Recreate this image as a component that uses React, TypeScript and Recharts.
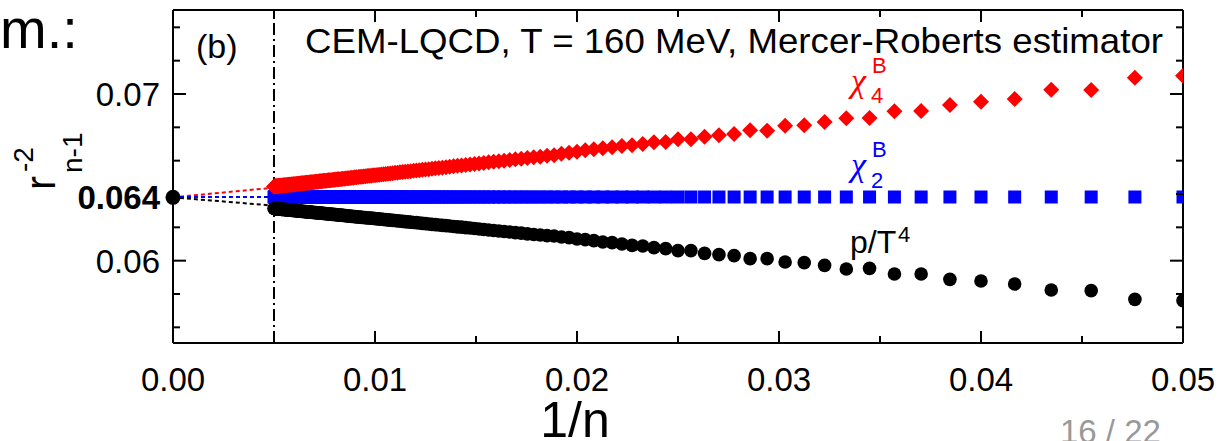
import { ComposedChart, Scatter, Line, XAxis, YAxis, ReferenceLine } from "recharts"

// n of the estimator, plotted at x = 1/n
const nValues = [
  20, 21, 22, 23, 24, 25, 26, 27, 28, 29,
  30, 31, 32, 33, 34, 35, 36, 37, 38, 39,
  40, 41, 42, 43, 44, 45, 46, 47, 48, 49,
  50, 51, 52, 53, 54, 55, 56, 57, 58, 59,
  60, 61, 62, 63, 64, 65, 66, 67, 68, 69,
  70, 71, 72, 73, 74, 75, 76, 77, 78, 79,
  80, 81, 82, 83, 84, 85, 86, 87, 88, 89,
  90, 91, 92, 93, 94, 95, 96, 97, 98, 99,
  100, 101, 102, 103, 104, 105, 106, 107, 108, 109,
  110, 111, 112, 113, 114, 115, 116, 117, 118, 119,
  120, 121, 122, 123, 124, 125, 126, 127, 128, 129,
  130, 131, 132, 133, 134, 135, 136, 137, 138, 139,
  140, 141, 142, 143, 144, 145, 146, 147, 148, 149,
  150, 151, 152, 153, 154, 155, 156, 157, 158, 159,
  160, 161, 162, 163, 164, 165, 166, 167, 168, 169,
  170, 171, 172, 173, 174, 175, 176, 177, 178, 179,
  180, 181, 182, 183, 184, 185, 186, 187, 188, 189,
  190, 191, 192, 193, 194, 195, 196, 197, 198, 199,
  200,
]

const chi4Values = [
  0.0711, 0.07098, 0.07024, 0.07026, 0.0697, 0.06954, 0.06934, 0.06898, 0.06896, 0.06856,
  0.06854, 0.06832, 0.06812, 0.0681, 0.0678, 0.06782, 0.0676, 0.06752, 0.06744, 0.06728,
  0.06728, 0.06712, 0.0671, 0.067, 0.06692, 0.06688, 0.0668, 0.06674, 0.06668, 0.06662,
  0.06654, 0.06648, 0.06642, 0.06632, 0.06629, 0.06624, 0.0662, 0.06616, 0.06611, 0.06608,
  0.06604, 0.066, 0.06596, 0.06593, 0.0659, 0.06586, 0.06583, 0.0658, 0.06577, 0.06574,
  0.06571, 0.06569, 0.06566, 0.06563, 0.06561, 0.06558, 0.06556, 0.06554, 0.06551, 0.06549,
  0.06547, 0.06545, 0.06543, 0.06541, 0.06539, 0.06537, 0.06535, 0.06533, 0.06532, 0.0653,
  0.06528, 0.06527, 0.06525, 0.06523, 0.06522, 0.0652, 0.06519, 0.06517, 0.06516, 0.06514,
  0.06513, 0.06512, 0.0651, 0.06509, 0.06508, 0.06507, 0.06505, 0.06504, 0.06503, 0.06502,
  0.06501, 0.065, 0.06498, 0.06497, 0.06496, 0.06495, 0.06494, 0.06493, 0.06492, 0.06491,
  0.0649, 0.06489, 0.06489, 0.06488, 0.06487, 0.06486, 0.06485, 0.06484, 0.06483, 0.06482,
  0.06482, 0.06481, 0.0648, 0.06479, 0.06479, 0.06478, 0.06477, 0.06476, 0.06476, 0.06475,
  0.06474, 0.06473, 0.06473, 0.06472, 0.06471, 0.06471, 0.0647, 0.0647, 0.06469, 0.06468,
  0.06468, 0.06467, 0.06467, 0.06466, 0.06465, 0.06465, 0.06464, 0.06464, 0.06463, 0.06463,
  0.06462, 0.06461, 0.06461, 0.0646, 0.0646, 0.06459, 0.06459, 0.06458, 0.06458, 0.06457,
  0.06457, 0.06457, 0.06456, 0.06456, 0.06455, 0.06455, 0.06454, 0.06454, 0.06453, 0.06453,
  0.06453, 0.06452, 0.06452, 0.06451, 0.06451, 0.06451, 0.0645, 0.0645, 0.06449, 0.06449,
  0.06449, 0.06448, 0.06448, 0.06448, 0.06447, 0.06447, 0.06446, 0.06446, 0.06446, 0.06445,
  0.06445,
]

const chi2Values = [
  0.06382, 0.06382, 0.06382, 0.06382, 0.06382, 0.06382, 0.06382, 0.06382, 0.06382, 0.06382,
  0.06382, 0.06382, 0.06382, 0.06382, 0.06382, 0.06382, 0.06382, 0.06382, 0.06382, 0.06382,
  0.06382, 0.06382, 0.06382, 0.06382, 0.06382, 0.06382, 0.06382, 0.06382, 0.06382, 0.06382,
  0.06382, 0.06382, 0.06382, 0.06382, 0.06382, 0.06382, 0.06382, 0.06382, 0.06382, 0.06382,
  0.06382, 0.06382, 0.06382, 0.06382, 0.06382, 0.06382, 0.06382, 0.06382, 0.06382, 0.06382,
  0.06382, 0.06382, 0.06382, 0.06382, 0.06382, 0.06382, 0.06382, 0.06382, 0.06382, 0.06382,
  0.06382, 0.06382, 0.06382, 0.06382, 0.06382, 0.06382, 0.06382, 0.06382, 0.06382, 0.06382,
  0.06382, 0.06382, 0.06382, 0.06382, 0.06382, 0.06382, 0.06382, 0.06382, 0.06382, 0.06382,
  0.06382, 0.06382, 0.06382, 0.06382, 0.06382, 0.06382, 0.06382, 0.06382, 0.06382, 0.06382,
  0.06382, 0.06382, 0.06382, 0.06382, 0.06382, 0.06382, 0.06382, 0.06382, 0.06382, 0.06382,
  0.06382, 0.06382, 0.06382, 0.06382, 0.06382, 0.06382, 0.06382, 0.06382, 0.06382, 0.06382,
  0.06382, 0.06382, 0.06382, 0.06382, 0.06382, 0.06382, 0.06382, 0.06382, 0.06382, 0.06382,
  0.06382, 0.06382, 0.06382, 0.06382, 0.06382, 0.06382, 0.06382, 0.06382, 0.06382, 0.06382,
  0.06382, 0.06382, 0.06382, 0.06382, 0.06382, 0.06382, 0.06382, 0.06382, 0.06382, 0.06382,
  0.06382, 0.06382, 0.06382, 0.06382, 0.06382, 0.06382, 0.06382, 0.06382, 0.06382, 0.06382,
  0.06382, 0.06382, 0.06382, 0.06382, 0.06382, 0.06382, 0.06382, 0.06382, 0.06382, 0.06382,
  0.06382, 0.06382, 0.06382, 0.06382, 0.06382, 0.06382, 0.06382, 0.06382, 0.06382, 0.06382,
  0.06382, 0.06382, 0.06382, 0.06382, 0.06382, 0.06382, 0.06382, 0.06382, 0.06382, 0.06382,
  0.06382,
]

const pressureValues = [
  0.0576, 0.05768, 0.0582, 0.05824, 0.0586, 0.05878, 0.05888, 0.0592, 0.0592, 0.05954,
  0.0595, 0.05972, 0.05988, 0.05992, 0.06012, 0.06012, 0.0603, 0.06036, 0.06044, 0.0606,
  0.0606, 0.06072, 0.06078, 0.06088, 0.06092, 0.061, 0.06108, 0.06112, 0.0612, 0.06126,
  0.0613, 0.06138, 0.06142, 0.06148, 0.0615, 0.06154, 0.06157, 0.06161, 0.06165, 0.06168,
  0.06172, 0.06175, 0.06178, 0.06181, 0.06184, 0.06187, 0.0619, 0.06193, 0.06196, 0.06198,
  0.06201, 0.06203, 0.06205, 0.06208, 0.0621, 0.06212, 0.06214, 0.06216, 0.06218, 0.0622,
  0.06222, 0.06224, 0.06226, 0.06228, 0.06229, 0.06231, 0.06233, 0.06234, 0.06236, 0.06238,
  0.06239, 0.06241, 0.06242, 0.06243, 0.06245, 0.06246, 0.06247, 0.06249, 0.0625, 0.06251,
  0.06253, 0.06254, 0.06255, 0.06256, 0.06257, 0.06258, 0.06259, 0.0626, 0.06261, 0.06262,
  0.06263, 0.06264, 0.06265, 0.06266, 0.06267, 0.06268, 0.06269, 0.0627, 0.06271, 0.06272,
  0.06273, 0.06273, 0.06274, 0.06275, 0.06276, 0.06277, 0.06278, 0.06278, 0.06279, 0.0628,
  0.0628, 0.06281, 0.06282, 0.06283, 0.06283, 0.06284, 0.06285, 0.06285, 0.06286, 0.06286,
  0.06287, 0.06288, 0.06288, 0.06289, 0.06289, 0.0629, 0.06291, 0.06291, 0.06292, 0.06292,
  0.06293, 0.06293, 0.06294, 0.06294, 0.06295, 0.06295, 0.06296, 0.06296, 0.06297, 0.06297,
  0.06298, 0.06298, 0.06299, 0.06299, 0.063, 0.063, 0.06301, 0.06301, 0.06302, 0.06302,
  0.06302, 0.06303, 0.06303, 0.06304, 0.06304, 0.06304, 0.06305, 0.06305, 0.06306, 0.06306,
  0.06306, 0.06307, 0.06307, 0.06307, 0.06308, 0.06308, 0.06308, 0.06309, 0.06309, 0.0631,
  0.0631, 0.0631, 0.0631, 0.06311, 0.06311, 0.06311, 0.06312, 0.06312, 0.06312, 0.06313,
  0.06313,
]

// extrapolation to 1/n -> 0
const fitX = [0, 0.005]
const chi4FitY = [0.0638, 0.06438]
const chi2FitY = [0.06382, 0.06382]
const pressureFitY = [0.0638, 0.0633]
const limitX = [0]
const limitY = [0.0638]
const cutX = 0.005

const xTicks = [0, 0.005, 0.01, 0.015, 0.02, 0.025, 0.03, 0.035, 0.04, 0.045, 0.05]
const yTicksLeft = [0.056, 0.058, 0.06, 0.062, 0.0638, 0.066, 0.068, 0.07, 0.072, 0.074]
const yTicksRight = [0.056, 0.058, 0.06, 0.062, 0.064, 0.066, 0.068, 0.07, 0.072, 0.074]

const chi4Data = nValues.map((n, i) => ({ x: 1 / n, y: chi4Values[i] }))
const chi2Data = nValues.map((n, i) => ({ x: 1 / n, y: chi2Values[i] }))
const pressureData = nValues.map((n, i) => ({ x: 1 / n, y: pressureValues[i] }))
const chi4Fit = fitX.map((x, i) => ({ x, y: chi4FitY[i] }))
const chi2Fit = fitX.map((x, i) => ({ x, y: chi2FitY[i] }))
const pressureFit = fitX.map((x, i) => ({ x, y: pressureFitY[i] }))
const limitData = limitX.map((x, i) => ({ x, y: limitY[i] }))

const FONT = "'Liberation Sans', Arial, Helvetica, sans-serif"
const GREEK = "'Liberation Serif', 'Times New Roman', serif"
const XDOMAIN: [number, number] = [0, 0.05]
const YDOMAIN: [number, number] = [0.05506, 0.07504]

const onStep = (v: number, step: number) => Math.abs(v / step - Math.round(v / step)) < 1e-6

function BottomTick({ x, y, payload }: any) {
  const major = onStep(payload.value, 0.01)
  return (
    <g>
      <line x1={x} y1={y} x2={x} y2={y - (major ? 12 : 7)} stroke="#000" strokeWidth={2} />
      {major && (
        <text x={x} y={y + 48} textAnchor="middle" fontSize={33} fontFamily={FONT} fill="#000">
          {payload.value.toFixed(2)}
        </text>
      )}
    </g>
  )
}

function TopTick({ x, y, payload }: any) {
  const major = onStep(payload.value, 0.01)
  return <line x1={x} y1={y} x2={x} y2={y + (major ? 12 : 7)} stroke="#000" strokeWidth={2} />
}

function LeftTick({ x, y, payload }: any) {
  const v = payload.value
  const limit = Math.abs(v - 0.0638) < 1e-6
  const major = onStep(v, 0.01)
  return (
    <g>
      {!limit && <line x1={x} y1={y} x2={x + (major ? 13 : 7)} y2={y} stroke="#000" strokeWidth={2} />}
      {major && (
        <text x={x - 13} y={y + 12} textAnchor="end" fontSize={33} fontFamily={FONT} fill="#000">
          {v.toFixed(2)}
        </text>
      )}
      {limit && (
        <text x={x - 13} y={y + 12} textAnchor="end" fontSize={33} fontWeight="bold" fontFamily={FONT} fill="#000">
          0.064
        </text>
      )}
    </g>
  )
}

function RightTick({ x, y, payload }: any) {
  const major = onStep(payload.value, 0.01)
  return <line x1={x} y1={y} x2={x - (major ? 13 : 7)} y2={y} stroke="#000" strokeWidth={2} />
}

const Diamond = ({ cx, cy }: any) => (
  <polygon points={`${cx},${cy - 8} ${cx + 8},${cy} ${cx},${cy + 8} ${cx - 8},${cy}`} fill="#ff0000" />
)
const Square = ({ cx, cy }: any) => <rect x={cx - 6.5} y={cy - 6.5} width={13} height={13} fill="#0000ff" />
const Dot = ({ cx, cy }: any) => <circle cx={cx} cy={cy} r={6.8} fill="#000" />
const BigDot = ({ cx, cy }: any) => <circle cx={cx} cy={cy} r={7.5} fill="#000" />

const axisLine = { stroke: "#000", strokeWidth: 2 }

export default function App() {
  return (
    <div style={{ position: "absolute", left: 0, top: 0, width: 1223, height: 441, background: "#fff" }}>
      <ComposedChart width={1223} height={441} margin={{ top: 9, right: 39, bottom: 97, left: 172 }}>
        <XAxis
          xAxisId="bottom"
          dataKey="x"
          type="number"
          domain={XDOMAIN}
          ticks={xTicks}
          interval={0}
          allowDataOverflow
          height={1}
          tickSize={0}
          tickMargin={0}
          tick={<BottomTick />}
          tickLine={false}
          axisLine={axisLine}
        />
        <XAxis
          xAxisId="top"
          orientation="top"
          dataKey="x"
          type="number"
          domain={XDOMAIN}
          ticks={xTicks}
          interval={0}
          height={1}
          tickSize={0}
          tickMargin={0}
          tick={<TopTick />}
          tickLine={false}
          axisLine={axisLine}
        />
        <YAxis
          yAxisId="left"
          type="number"
          domain={YDOMAIN}
          ticks={yTicksLeft}
          interval={0}
          width={1}
          tickSize={0}
          tickMargin={0}
          tick={<LeftTick />}
          tickLine={false}
          axisLine={axisLine}
        />
        <YAxis
          yAxisId="right"
          orientation="right"
          type="number"
          domain={YDOMAIN}
          ticks={yTicksRight}
          interval={0}
          width={1}
          tickSize={0}
          tickMargin={0}
          tick={<RightTick />}
          tickLine={false}
          axisLine={axisLine}
        />

        <Line xAxisId="top" yAxisId="right" data={chi4Fit} dataKey="y" stroke="#ff0000" strokeWidth={2} strokeDasharray="4 3" dot={false} isAnimationActive={false} />
        <Line xAxisId="top" yAxisId="right" data={chi2Fit} dataKey="y" stroke="#0000ff" strokeWidth={2} strokeDasharray="4 3" dot={false} isAnimationActive={false} />
        <Line xAxisId="top" yAxisId="right" data={pressureFit} dataKey="y" stroke="#000" strokeWidth={2} strokeDasharray="4 3" dot={false} isAnimationActive={false} />

        <Scatter xAxisId="bottom" yAxisId="left" data={chi2Data} dataKey="y" shape={<Square />} isAnimationActive={false} />
        <Scatter xAxisId="bottom" yAxisId="left" data={pressureData} dataKey="y" shape={<Dot />} isAnimationActive={false} />
        <Scatter xAxisId="bottom" yAxisId="left" data={chi4Data} dataKey="y" shape={<Diamond />} isAnimationActive={false} />
        <Scatter xAxisId="top" yAxisId="right" data={limitData} dataKey="y" shape={<BigDot />} isAnimationActive={false} />

        <ReferenceLine xAxisId="bottom" yAxisId="left" x={cutX} stroke="#000" strokeWidth={2} strokeDasharray="12 4 2 4" />
      </ComposedChart>

      <svg width={1223} height={441} style={{ position: "absolute", left: 0, top: 0, pointerEvents: "none" }} fontFamily={FONT}>
        <text x={0} y={48} fontSize={56} fill="#000">m.:</text>
        <text x={196} y={58} fontSize={34} fill="#000">(b)</text>
        <text x={305} y={53} fontSize={35} fill="#000" textLength={858} lengthAdjust="spacingAndGlyphs">
          CEM-LQCD, T = 160 MeV, Mercer-Roberts estimator
        </text>

        <text x={851} y={92} fontSize={34} fontStyle="italic" fontFamily={GREEK} fill="#ff0000">χ</text>
        <text x={871} y={103} fontSize={22} fill="#ff0000">4</text>
        <text x={872} y={73} fontSize={22} fill="#ff0000">B</text>

        <text x={851} y={176} fontSize={34} fontStyle="italic" fontFamily={GREEK} fill="#0000ff">χ</text>
        <text x={871} y={188} fontSize={22} fill="#0000ff">2</text>
        <text x={872} y={157} fontSize={22} fill="#0000ff">B</text>

        <text x={850} y={253} fontSize={32} fill="#000">p/T</text>
        <text x={898} y={242} fontSize={22} fill="#000">4</text>

        <g transform="translate(55,190) rotate(-90)">
          <text x={0} y={0} fontSize={42} fill="#000">r</text>
          <text x={18} y={-22} fontSize={28} fill="#000">-2</text>
          <text x={17} y={27} fontSize={28} fill="#000">n-1</text>
        </g>

        <text x={575} y={437} fontSize={50} textAnchor="middle" fill="#000">1/n</text>
        <text x={1060} y={443} fontSize={33} fill="#999">16 / 22</text>
      </svg>
    </div>
  )
}
